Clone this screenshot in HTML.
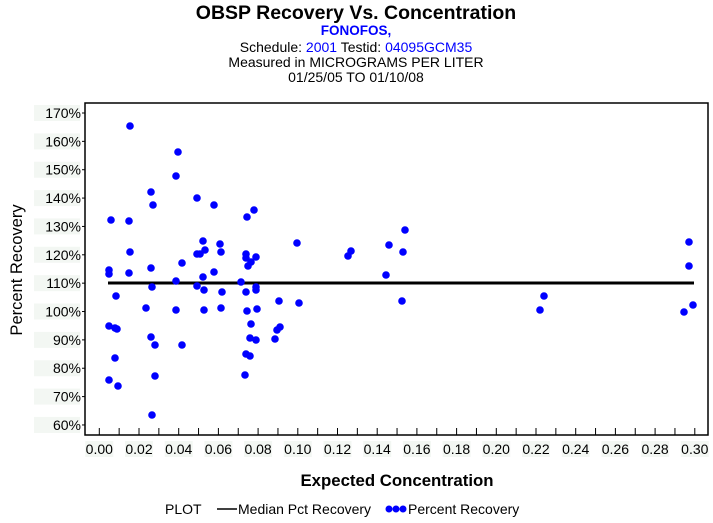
<!DOCTYPE html>
<html><head><meta charset="utf-8"><style>
html,body{margin:0;padding:0;background:#fff;}
svg{display:block;font-family:"Liberation Sans",Arial,sans-serif;}
</style></head><body>
<svg width="713" height="523" viewBox="0 0 713 523" xmlns="http://www.w3.org/2000/svg">
<text x="356" y="19" text-anchor="middle" font-size="19.5" font-weight="bold">OBSP Recovery Vs. Concentration</text>
<text x="356" y="35" text-anchor="middle" font-size="13.5" font-weight="bold" fill="#0000ff">FONOFOS,</text>
<text x="356" y="52" text-anchor="middle" font-size="14">Schedule: <tspan fill="#0000ff">2001</tspan>  Testid: <tspan fill="#0000ff">04095GCM35</tspan></text>
<text x="356" y="67" text-anchor="middle" font-size="14">Measured in  MICROGRAMS PER LITER</text>
<text x="356" y="82" text-anchor="middle" font-size="14">01/25/05 TO 01/10/08</text>
<rect x="85" y="103" width="623" height="332" fill="none" stroke="#000" stroke-width="1.5"/>
<g font-size="14" text-anchor="end" id="yl"></g>
<g id="xl" font-size="14" text-anchor="middle"></g>
<text transform="translate(22,270) rotate(-90)" text-anchor="middle" font-size="16.5">Percent Recovery</text>
<text x="397" y="486" text-anchor="middle" font-size="16.8" font-weight="bold">Expected Concentration</text>
<line x1="108" y1="283" x2="694" y2="283" stroke="#000" stroke-width="3"/>
<g id="pts" fill="#0000ff"></g>
<text x="165" y="514" font-size="14">PLOT</text>
<line x1="217" y1="509" x2="237" y2="509" stroke="#000" stroke-width="1.5"/>
<text x="238" y="514" font-size="14">Median Pct Recovery</text>
<circle cx="389" cy="509" r="3.5" fill="#00f"/><circle cx="396" cy="509" r="3.5" fill="#00f"/><circle cx="403" cy="509" r="3.5" fill="#00f"/>
<text x="408" y="514" font-size="14">Percent Recovery</text>
</svg>
<script>
var NS="http://www.w3.org/2000/svg",s=document.querySelector('svg');
function el(t,a,p,txt){var e=document.createElementNS(NS,t);for(var k in a)e.setAttribute(k,a[k]);if(txt)e.textContent=txt;(p||s).appendChild(e);return e;}
var yl=document.getElementById('yl');
for(var i=0;i<=11;i++){var v=170-i*10,y=113+i*28.36;
el('rect',{x:34,y:y-8,width:46,height:16,fill:'#f3f7f3'},yl);
el('text',{x:81,y:y+5},yl,v+'%');
el('line',{x1:82,y1:y,x2:85,y2:y,stroke:'#000'});}
var xl=document.getElementById('xl');
for(var i=0;i<=30;i++){var x=99.3+i*19.85;
el('line',{x1:x,y1:428,x2:x,y2:435,stroke:'#000'});
if(i%2==0){el('rect',{x:x-14,y:441,width:28,height:16,fill:'#f3f7f3'},xl);
el('text',{x:x,y:454},xl,(i/100).toFixed(2));}}
var P=[[130,126],[178,152],[176,176],[151,192],[153,205],[111,220],[129,221],[130,252],[109,270],[109,274],[129,273],[151,268],[182,263],[176,281],[152,287],[116,296],[146,308],[176,310],[109,326],[115,328],[117,329],[151,337],[155,345],[182,345],[115,358],[109,380],[118,386],[155,376],[152,415],
[197,198],[214,205],[254,210],[247,217],[203,241],[220,244],[297,243],[205,250],[200,254],[197,254],[221,252],[246,254],[246,258],[256,257],[251,262],[248,266],[214,272],[203,277],[241,282],[197,286],[256,287],[256,290],[204,290],[222,292],[246,292],[279,301],[299,303],[204,310],[221,308],[247,311],[257,309],[251,324],[280,327],[277,330],[250,338],[256,340],[275,339],[246,354],[250,356],[245,375],
[351,251],[348,256],[405,230],[389,245],[403,252],[386,275],[402,301],[544,296],[540,310],[689,242],[689,266],[693,305],[684,312]];
var g=document.getElementById('pts');
P.forEach(function(p){el('circle',{cx:p[0],cy:p[1],r:3.8},g);});
</script>
</body></html>
